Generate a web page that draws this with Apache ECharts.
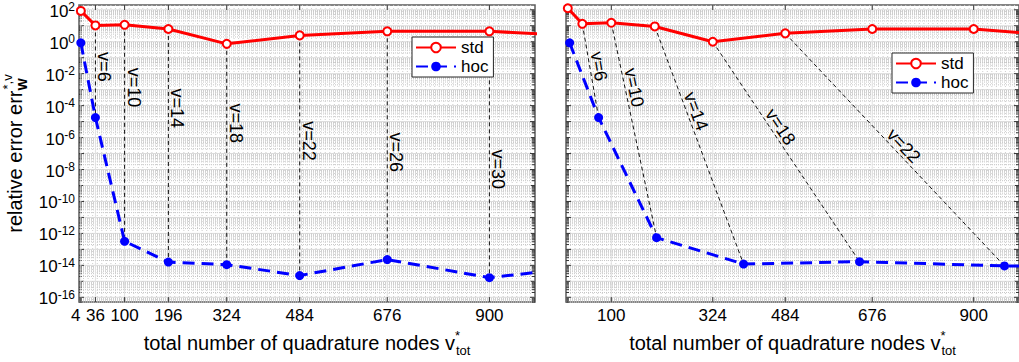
<!DOCTYPE html>
<html><head><meta charset="utf-8">
<script src="https://cdn.jsdelivr.net/npm/echarts@6/dist/echarts.min.js"></script>
<style>html,body{margin:0;padding:0;background:#fff}#c{width:1019px;height:362px}</style>
</head><body><div id="c"></div>
<script>
const FONT = '"Liberation Sans", Arial, Helvetica, sans-serif';

// ---- data ----
const nodesStd = [4, 36, 100, 196, 324, 484, 676, 900, 1156];
const stdLeft  = [85, 10.5, 11.5, 6.3, 0.74, 2.5, 4.5, 4.5, 1.9];
const hocLeft  = [0.86, 1.8e-5, 3.2e-13, 1.6e-14, 1.1e-14, 2.3e-15, 2.3e-14, 1.7e-15, 1.1e-14];
const stdRight = [125, 13.3, 15.4, 9.1, 1.0, 3.35, 6.3, 6.3, 1.7];
const hocRightX = [8, 72, 200, 392, 648, 968, 1352];
const hocRight = [0.86, 1.8e-5, 5.4e-13, 1.2e-14, 1.7e-14, 9.2e-15, 9e-15];

const xTicksLeft  = [4, 36, 100, 196, 324, 484, 676, 900];
const xTicksRight = [100, 324, 484, 676, 900];
const yTickExps = [-16, -14, -12, -10, -8, -6, -4, -2, 0, 2];

const vLeft  = [6, 10, 14, 18, 22, 26, 30];
const vRight = [6, 10, 14, 18, 22];
const labelFracLeft  = [0.45, 0.29, 0.34, 0.36, 0.44, 0.53, 0.56];
const labelFracRight = [0.47, 0.31, 0.37, 0.41, 0.51];

const Y_MIN = 5e-17, Y_MAX = 2e2, X_MIN = 0, X_MAX = 1000;

// ---- helpers ----
function gridLines(xTicks) {
  const d = [];
  for (let n = -17; n <= 2; n++) {
    for (let k = 1; k <= 9; k++) {
      const v = k * Math.pow(10, n);
      if (v > Y_MIN && v < Y_MAX) d.push([X_MIN, v, k === 1 ? 1 : 0]);
    }
  }
  for (let x = 10; x < X_MAX; x += 10) d.push([x, Y_MIN, 2]);
  xTicks.forEach(x => d.push([x, Y_MIN, 3]));
  return d;
}
const TICK = '#333';
function renderGrid(params, api) {
  const cs = params.coordSys;
  const kind = api.value(2);
  const p = api.coord([api.value(0), api.value(1)]);
  const L = cs.x, R = cs.x + cs.width, T = cs.y, B = cs.y + cs.height;
  if (kind <= 1) {
    const y = p[1];
    const len = kind === 1 ? 5 : 3;
    return { type: 'group', children: [
      { type: 'line', shape: { x1: L, y1: y, x2: R, y2: y },
        style: kind === 1 ? { stroke: '#dadada', lineWidth: 1 } : { stroke: '#c6c6c6', lineWidth: 1, lineDash: [1, 1] } },
      { type: 'line', shape: { x1: L, y1: y, x2: L + len, y2: y }, style: { stroke: TICK, lineWidth: 1 } },
      { type: 'line', shape: { x1: R - len, y1: y, x2: R, y2: y }, style: { stroke: TICK, lineWidth: 1 } }
    ] };
  }
  const x = p[0];
  if (kind === 2) {
    return { type: 'line', shape: { x1: x, y1: T, x2: x, y2: B }, style: { stroke: '#cdcdcd', lineWidth: 1, lineDash: [1, 2] } };
  }
  return { type: 'group', children: [
    { type: 'line', shape: { x1: x, y1: T, x2: x, y2: B }, style: { stroke: '#e2e2e2', lineWidth: 1 } },
    { type: 'line', shape: { x1: x, y1: B - 5, x2: x, y2: B }, style: { stroke: TICK, lineWidth: 1 } },
    { type: 'line', shape: { x1: x, y1: T, x2: x, y2: T + 5 }, style: { stroke: TICK, lineWidth: 1 } }
  ] };
}
function renderYLabel(params, api) {
  const cs = params.coordSys;
  const p = api.coord([X_MIN, api.value(1)]);
  const e = yTickExps[params.dataIndex];
  return { type: 'text', x: cs.x - 4, y: p[1] + 1.5, style: {
    text: '{b|10}{s|' + e + '}',
    rich: {
      b: { fontSize: 17, fontFamily: FONT, lineHeight: 20, fill: '#000', align: 'left' },
      s: { fontSize: 12, fontFamily: FONT, lineHeight: 12, verticalAlign: 'top', fill: '#000', align: 'left' }
    },
    align: 'right', verticalAlign: 'middle'
  } };
}
function makeAnnoRender(labels, fracs) {
  return function (params, api) {
    const p1 = api.coord([api.value(0), api.value(1)]);
    const p2 = api.coord([api.value(2), api.value(3)]);
    const t = fracs[params.dataIndex];
    const dx = p2[0] - p1[0], dy = p2[1] - p1[1];
    const th = Math.atan2(dy, dx);
    const ax = p1[0] + t * dx, ay = p1[1] + t * dy;
    const d = 9;
    const cx = ax + d * Math.sin(th), cy = ay - d * Math.cos(th);
    return { type: 'group', children: [
      { type: 'line', shape: { x1: p1[0], y1: p1[1], x2: p2[0], y2: p2[1] },
        style: { stroke: '#111', lineWidth: 1, lineDash: [4, 3] } },
      { type: 'text', x: cx, y: cy, rotation: -th, style: {
        text: 'v=' + labels[params.dataIndex], fill: '#000', fontSize: 18, fontFamily: FONT,
        align: 'center', verticalAlign: 'middle' } }
    ] };
  };
}

const titleRich = {
  m: { fontSize: 20, fontFamily: FONT, color: '#000', lineHeight: 28, align: 'left' },
  sup: { fontSize: 13, fontFamily: FONT, color: '#000', lineHeight: 13, verticalAlign: 'top', align: 'left' },
  supw: { fontSize: 13, fontFamily: FONT, color: '#000', lineHeight: 13, verticalAlign: 'top', align: 'left', width: 1 },
  sub: { fontSize: 13, fontFamily: FONT, color: '#000', lineHeight: 13, verticalAlign: 'bottom', align: 'left' },
  subw: { fontSize: 13, fontFamily: FONT, color: '#000', fontWeight: 'bold', lineHeight: 13, verticalAlign: 'bottom', align: 'left', width: 1 }
};
const xName = '{m|total number of quadrature nodes v}{supw|*}{sub|tot}';
const yName = '{m|relative error err}{subw|W}{sup|*,v}';

function xAxisCfg(gi, ticks) {
  return {
    gridIndex: gi, type: 'value', min: X_MIN, max: X_MAX,
    axisLine: { show: false }, axisTick: { show: false }, splitLine: { show: false },
    axisLabel: {
      customValues: ticks, fontSize: 17, fontFamily: FONT, color: '#000', margin: 5,
      formatter: v => (v === ticks[0] && gi === 0) ? '{l|' + v + '}' : String(v),
      rich: { l: { fontSize: 17, fontFamily: FONT, color: '#000', padding: [0, 10, 0, 0] } }
    },
    name: xName, nameLocation: 'middle', nameGap: 24,
    nameTextStyle: { rich: titleRich }
  };
}
function yAxisCfg(gi, withName) {
  const c = {
    gridIndex: gi, type: 'log', logBase: 10, min: Y_MIN, max: Y_MAX,
    axisLine: { show: false }, axisTick: { show: false }, splitLine: { show: false },
    axisLabel: { show: false }
  };
  if (withName) {
    c.name = yName; c.nameLocation = 'middle'; c.nameGap = 50;
    c.nameTextStyle = { rich: titleRich };
  }
  return c;
}
function legendCfg(left, top) {
  return {
    data: ['std', 'hoc'], left: left, top: top, orient: 'vertical',
    itemWidth: 40, itemHeight: 12, itemGap: 2, padding: [2, 5, 2, 3],
    backgroundColor: '#fff', borderColor: '#262626', borderWidth: 1, borderRadius: 0,
    selectedMode: false,
    textStyle: { fontSize: 17, fontFamily: FONT, color: '#000' }
  };
}
function stdSeries(xi, vals) {
  return {
    name: 'std', type: 'line', xAxisIndex: xi, yAxisIndex: xi, z: 4,
    data: nodesStd.map((x, i) => [x, vals[i]]),
    symbol: 'emptyCircle', symbolSize: 8, showAllSymbol: true,
    lineStyle: { color: '#ff0000', width: 3 },
    itemStyle: { color: '#ff0000', borderColor: '#ff0000', borderWidth: 2.5 },
    emphasis: { disabled: true }, silent: true
  };
}
function hocSeries(xi, xs, vals) {
  return {
    name: 'hoc', type: 'line', xAxisIndex: xi, yAxisIndex: xi, z: 5,
    data: xs.map((x, i) => [x, vals[i]]),
    symbol: 'circle', symbolSize: 9, showAllSymbol: true,
    lineStyle: { color: '#0000ff', width: 3, type: [12, 7] },
    itemStyle: { color: '#0000ff' },
    emphasis: { disabled: true }, silent: true
  };
}

const chart = echarts.init(document.getElementById('c'), null, { renderer: 'svg', width: 1019, height: 362 });
chart.setOption({
  animation: false,
  backgroundColor: '#fff',
  grid: [
    { left: 77, top: 5, width: 458, height: 301, show: true, borderColor: '#5c5c5c', borderWidth: 1.5, backgroundColor: '#fff' },
    { left: 566, top: 5, width: 459, height: 301, show: true, borderColor: '#5c5c5c', borderWidth: 1.5, backgroundColor: '#fff' }
  ],
  xAxis: [xAxisCfg(0, xTicksLeft), xAxisCfg(1, xTicksRight)],
  yAxis: [yAxisCfg(0, true), yAxisCfg(1, false)],
  legend: [legendCfg(412, 37), legendCfg(892, 53)],
  series: [
    { type: 'custom', xAxisIndex: 0, yAxisIndex: 0, z: 1, silent: true, data: gridLines(xTicksLeft), encode: { x: 0, y: 1 }, renderItem: renderGrid },
    { type: 'custom', xAxisIndex: 1, yAxisIndex: 1, z: 1, silent: true, data: gridLines(xTicksRight), encode: { x: 0, y: 1 }, renderItem: renderGrid },
    { type: 'custom', xAxisIndex: 0, yAxisIndex: 0, z: 1, silent: true, data: yTickExps.map(e => [X_MIN, Math.pow(10, e)]), encode: { x: 0, y: 1 }, renderItem: renderYLabel },
    { type: 'custom', xAxisIndex: 0, yAxisIndex: 0, z: 3, silent: true,
      data: vLeft.map((v, i) => [nodesStd[i + 1], stdLeft[i + 1], nodesStd[i + 1], hocLeft[i + 1]]),
      encode: { x: [0, 2], y: [1, 3] }, renderItem: makeAnnoRender(vLeft, labelFracLeft) },
    { type: 'custom', xAxisIndex: 1, yAxisIndex: 1, z: 3, silent: true,
      data: vRight.map((v, i) => [nodesStd[i + 1], stdRight[i + 1], hocRightX[i + 1], hocRight[i + 1]]),
      encode: { x: [0, 2], y: [1, 3] }, renderItem: makeAnnoRender(vRight, labelFracRight) },
    stdSeries(0, stdLeft), hocSeries(0, nodesStd, hocLeft),
    stdSeries(1, stdRight), hocSeries(1, hocRightX, hocRight)
  ]
});
</script></body></html>
